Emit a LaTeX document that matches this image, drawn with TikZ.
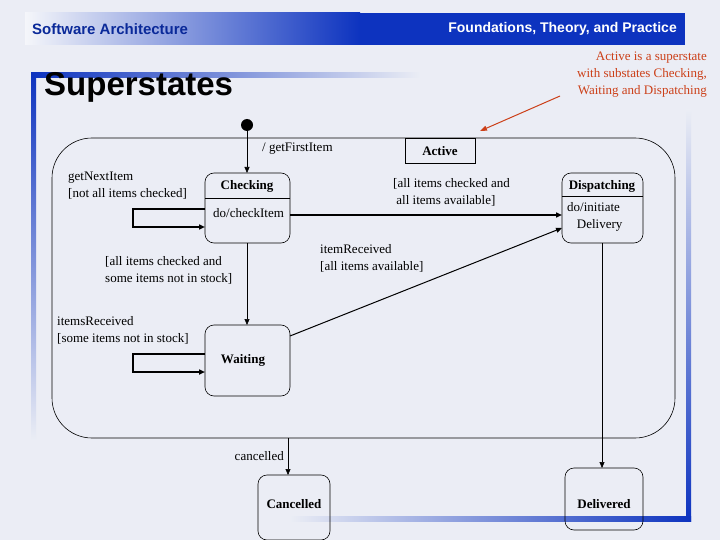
\documentclass[tikz,border=0pt]{standalone}
\usepackage{fontspec}
\setmainfont{Liberation Serif}
\newfontfamily\hsans{Liberation Sans}
\usetikzlibrary{arrows.meta}
\definecolor{bg}{rgb}{0.92,0.93,0.96}
\definecolor{hblue}{rgb}{0.05,0.2,0.75}
\definecolor{ann}{rgb}{0.8,0.25,0.1}
\begin{document}
\begin{tikzpicture}[x=1pt,y=-1pt,
  st/.style={draw,rounded corners=9pt,line width=0.6pt},
  lbl/.style={font=\fontsize{13}{17}\selectfont,align=left,inner sep=0pt,anchor=north west},
  nm/.style={font=\bfseries\fontsize{13}{15}\selectfont,inner sep=0pt},
  ar/.style={-{Triangle[length=6pt,width=5pt]},line width=0.6pt},
  tr/.style={-{Triangle[length=6pt,width=5pt]},line width=1.6pt}]
\useasboundingbox (0,0) rectangle (720,540);
\fill[bg] (0,0) rectangle (720,540);
% header
\shade[left color=bg!50!white, right color=hblue] (25,13) rectangle (360,45);
\fill[hblue] (360,13) rectangle (685,45);
\node[font=\hsans\bfseries\fontsize{15}{17}\selectfont,text=hblue!80!black,anchor=west,inner sep=0] (sa) at (32,29) {Software Architecture};
\node[font=\hsans\bfseries\fontsize{14}{16}\selectfont,text=white,anchor=east,inner sep=0] (ft) at (677,29) {Foundations, Theory, and Practice};
% frame
\shade[top color=hblue, bottom color=bg] (31,73) rectangle (36,440);
\shade[left color=hblue, right color=bg] (31,73) rectangle (420,78);
\shade[top color=bg, bottom color=hblue] (686,110) rectangle (691,521);
\shade[left color=bg, right color=hblue] (290,516) rectangle (691,521);
\node[font=\hsans\bfseries\fontsize{33}{36}\selectfont,anchor=west,inner sep=0] (title) at (44,87) {Superstates};
\node[font=\fontsize{13}{17}\selectfont,text=ann,align=right,anchor=north east,inner sep=0] (annot) at (707,52) {Active is a superstate\\with substates Checking,\\Waiting and Dispatching};
\coordinate (annA) at (560,96);
\coordinate (annB) at (480,131);
\draw[ann,line width=1pt,-{Triangle[length=7pt,width=5pt]}] (annA) -- (annB);
% Active superstate
\draw[line width=0.6pt,rounded corners=40pt] (52,138) rectangle (675,438);
\draw[line width=0.6pt] (405,138) rectangle (475,163);
\node[nm] (active) at (440,151) {Active};
\fill (247,125) circle (6);
\coordinate (init) at (247,125);
% Checking
\draw[st] (205,173) rectangle (290,243);
\draw[line width=0.6pt] (205,198) -- (290,198);
\node[nm] (chk) at (247,186) {Checking};
\node[lbl] (chkdo) at (213,208) {do/checkItem};
\coordinate (chkT) at (247,173);
\draw[ar] (init) -- (chkT);
\node[lbl] (l1) at (262,143) {/ getFirstItem};
% Checking self loop
\coordinate (c1) at (205,209); \coordinate (c2) at (205,227);
\draw[tr] (c1) -| (133,227) -- (c2);
\node[lbl] (l2) at (68,172) {getNextItem\\{}[not all items checked]};
% Dispatching
\draw[st] (562,173) rectangle (643,243);
\draw[line width=0.6pt] (562,196) -- (643,196);
\node[nm] (dsp) at (602,186) {Dispatching};
\node[lbl] (dspdo) at (567,202) {do/initiate\\\ \ \ Delivery};
\coordinate (cR) at (290,215); \coordinate (dL) at (562,215);
\draw[tr] (cR) -- (dL);
\node[lbl] (l3) at (393,178) {[all items checked and\\\ all items available]};
% Waiting
\draw[st] (205,325) rectangle (290,396);
\node[nm] (wt) at (243,360) {Waiting};
\coordinate (wT) at (247,325); \coordinate (cB) at (247,243);
\draw[ar] (cB) -- (wT);
\node[lbl] (l4) at (105,256) {[all items checked and\\some items not in stock]};
\coordinate (w1) at (205,354); \coordinate (w2) at (205,372);
\draw[tr] (w1) -| (133,372) -- (w2);
\node[lbl] (l5) at (57,316) {itemsReceived\\{}[some items not in stock]};
\coordinate (wR) at (290,336); \coordinate (dL2) at (562,228);
\draw[ar,line width=1pt] (wR) -- (dL2);
\node[lbl] (l6) at (320,244) {itemReceived\\{}[all items available]};
% Cancelled / Delivered
\draw[st] (258,475) rectangle (330,540);
\node[nm] (can) at (294,504) {Cancelled};
\coordinate (aB) at (288,438); \coordinate (canT) at (288,475);
\draw[ar] (aB) -- (canT);
\node[lbl,anchor=east] (l7) at (284,456) {cancelled};
\draw[st] (565,468) rectangle (643,530);
\node[nm] (del) at (604,504) {Delivered};
\coordinate (dB) at (602,243); \coordinate (delT) at (602,468);
\draw[ar] (dB) -- (delT);
\end{tikzpicture}
\end{document}
